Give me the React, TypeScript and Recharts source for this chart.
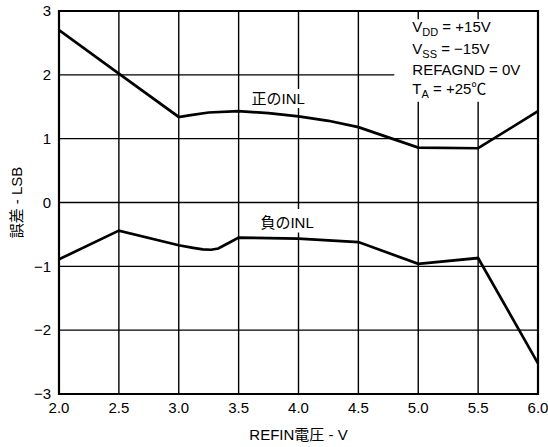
import {
  LineChart,
  Line,
  XAxis,
  YAxis,
  CartesianGrid,
  ReferenceArea,
} from 'recharts';

const FONT = "'Liberation Sans', Arial, 'Noto Sans CJK JP', sans-serif";

// 正のINL
const POS_VREF = [2.0, 2.5, 3.0, 3.1, 3.25, 3.5, 3.75, 4.0, 4.25, 4.5, 4.75, 5.0, 5.5, 6.0];
const POS_INL = [2.7, 2.02, 1.34, 1.37, 1.41, 1.43, 1.4, 1.35, 1.28, 1.18, 1.02, 0.86, 0.85, 1.43];

// 負のINL
const NEG_VREF = [2.0, 2.5, 3.0, 3.12, 3.2, 3.27, 3.33, 3.42, 3.5, 4.0, 4.5, 5.0, 5.5, 6.0];
const NEG_INL = [-0.89, -0.44, -0.67, -0.71, -0.735, -0.74, -0.72, -0.63, -0.55, -0.565, -0.62, -0.96, -0.87, -2.52];

const X_TICKS = [2.0, 2.5, 3.0, 3.5, 4.0, 4.5, 5.0, 5.5, 6.0];
const Y_TICKS = [-3, -2, -1, 0, 1, 2, 3];

const CONDITIONS = [
  { main: 'V', sub: 'DD', rest: ' = +15V' },
  { main: 'V', sub: 'SS', rest: ' = \u221215V' },
  { main: 'REFAGND = 0V', sub: '', rest: '' },
  { main: 'T', sub: 'A', rest: ' = +25\u2103' },
];
const CONDITION_BASELINES = [13, 34.5, 55.5, 75];

const posData = POS_VREF.map((v, i) => ({ v, inl: POS_INL[i] }));
const negData = NEG_VREF.map((v, i) => ({ v, inl: NEG_INL[i] }));

function ConditionsText({ viewBox }: any) {
  const { x, y } = viewBox;
  return (
    <g fontFamily={FONT} fontSize={15} fill="#000">
      {CONDITIONS.map((c, i) => (
        <text key={i} x={x + 18} y={y + CONDITION_BASELINES[i]}>
          <tspan>{c.main}</tspan>
          {c.sub && (
            <tspan fontSize={11} dy={4}>
              {c.sub}
            </tspan>
          )}
          {c.rest && <tspan dy={c.sub ? -4 : 0}>{c.rest}</tspan>}
        </text>
      ))}
    </g>
  );
}

function boxLabel(text: string, shift: number) {
  return ({ viewBox }: any) => (
    <text
      x={viewBox.x + viewBox.width / 2}
      y={viewBox.y + viewBox.height / 2 + shift}
      textAnchor="middle"
      dominantBaseline="central"
      fontFamily={FONT}
      fontSize={15}
      fill="#000"
    >
      {text}
    </text>
  );
}

const fmtY = (v: number) => (v < 0 ? `\u2212${Math.abs(v)}` : `${v}`);

export default function App() {
  return (
    <div style={{ position: 'absolute', left: 0, top: 0, background: '#fff' }}>
      <LineChart
        width={548}
        height={447}
        margin={{ top: 11, right: 10, bottom: 0, left: 0 }}
        style={{ fontFamily: FONT }}
      >
        <CartesianGrid stroke="#000" strokeWidth={1.4} />
        <XAxis
          type="number"
          dataKey="v"
          domain={[2, 6]}
          ticks={X_TICKS}
          allowDataOverflow
          height={53}
          axisLine={false}
          tickLine={false}
          tick={{ fill: '#000', fontSize: 15 }}
          tickFormatter={(v: number) => v.toFixed(1)}
          label={{ value: 'REFIN電圧 - V', position: 'insideBottom', offset: 7, fill: '#000', fontSize: 15 }}
        />
        <YAxis
          type="number"
          domain={[-3, 3]}
          ticks={Y_TICKS}
          allowDataOverflow
          width={59}
          axisLine={false}
          tickLine={false}
          tick={{ fill: '#000', fontSize: 15 }}
          tickFormatter={fmtY}
          label={{
            value: '誤差 - LSB',
            angle: -90,
            position: 'insideLeft',
            offset: 17,
            fill: '#000',
            fontSize: 15,
            style: { textAnchor: 'middle' },
          }}
        />
        <ReferenceArea
          x1={4.8}
          x2={6}
          y1={1.58}
          y2={2.87}
          fill="#fff"
          fillOpacity={1}
          stroke="none"
          label={ConditionsText}
        />
        <ReferenceArea
          x1={3.58}
          x2={4.08}
          y1={1.48}
          y2={1.78}
          fill="#fff"
          fillOpacity={1}
          stroke="none"
          label={boxLabel('正のINL', 0)}
        />
        <ReferenceArea
          x1={3.66}
          x2={4.15}
          y1={-0.47}
          y2={-0.1}
          fill="#fff"
          fillOpacity={1}
          stroke="none"
          label={boxLabel('負のINL', 2)}
        />
        <Line
          data={posData}
          dataKey="inl"
          type="linear"
          stroke="#000"
          strokeWidth={2.7}
          dot={false}
          isAnimationActive={false}
        />
        <Line
          data={negData}
          dataKey="inl"
          type="linear"
          stroke="#000"
          strokeWidth={2.7}
          dot={false}
          isAnimationActive={false}
        />
        <ReferenceArea x1={2} x2={6} y1={-3} y2={3} fill="none" stroke="#000" strokeWidth={2.2} />
      </LineChart>
    </div>
  );
}
